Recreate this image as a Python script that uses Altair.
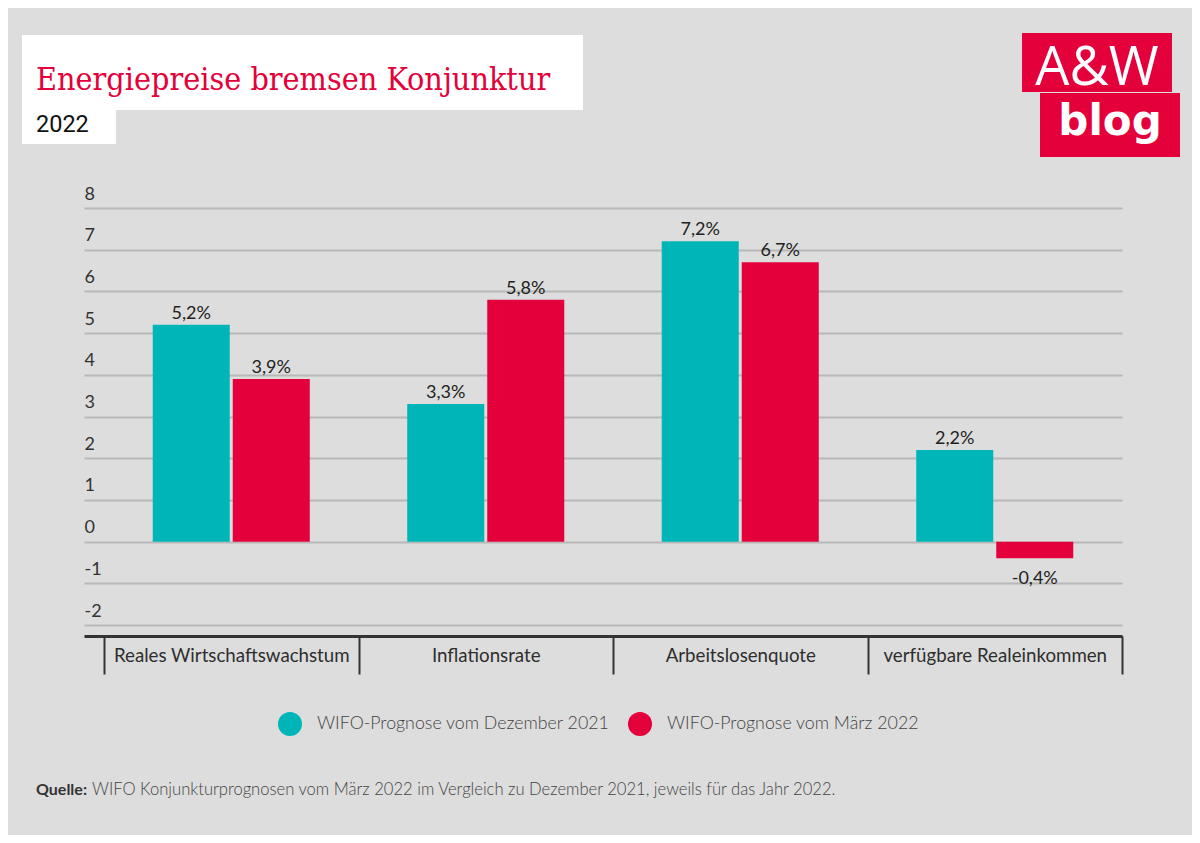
import altair as alt
import pandas as pd

# ---------------- data ----------------
categories = ["Reales Wirtschaftswachstum", "Inflationsrate", "Arbeitslosenquote", "verfügbare Realeinkommen"]
series = ["WIFO-Prognose vom Dezember 2021", "WIFO-Prognose vom März 2022"]
dez_2021 = [5.2, 3.3, 7.2, 2.2]
maerz_2022 = [3.9, 5.8, 6.7, -0.4]
y_ticks = [-2, -1, 0, 1, 2, 3, 4, 5, 6, 7, 8]
colors = ["#00b5b8", "#e4003a"]

title_text = "Energiepreise bremsen Konjunktur"
subtitle_text = "2022"
source_bold = "Quelle:"
source_text = "WIFO Konjunkturprognosen vom März 2022 im Vergleich zu Dezember 2021, jeweils für das Jahr 2022."

rows = []
for c, a, b in zip(categories, dez_2021, maerz_2022):
    for s, v in ((series[0], a), (series[1], b)):
        rows.append({"Kategorie": c, "Prognose": s, "Wert": v,
                     "Label": f"{v:.1f}".replace(".", ",") + "%"})
df = pd.DataFrame(rows)
dummy = pd.DataFrame({"d": [0]})

# ---------------- layout ----------------
W, H = 1038, 428
OX, OY = 84, 208  # page position of plot origin
FONT = "Lato"
BG = "#dddddd"


def px(x):
    return x - OX


def py(y):
    return y - OY


x_enc = alt.X(
    "Kategorie:N", sort=categories,
    scale=alt.Scale(paddingInner=0, paddingOuter=0.0393, align=1),
    axis=alt.Axis(title=None, orient="bottom", domainColor="#333333", domainWidth=3,
                  tickBand="extent", tickSize=38, tickWidth=2, tickColor="#333333",
                  labelPadding=-28, labelFont=FONT, labelFontSize=18.7, labelColor="#2e2e2e",
                  labelAngle=0, grid=False, labelBaseline="top", labelLimit=0),
)
xo_enc = alt.XOffset("Prognose:N", sort=series,
                     scale=alt.Scale(paddingInner=0.0375, paddingOuter=0.609))
y_enc = alt.Y(
    "Wert:Q",
    scale=alt.Scale(domain=[-2.263, 8], nice=False, zero=False),
    axis=alt.Axis(title=None, values=y_ticks, domain=False, ticks=False, grid=True,
                  gridColor="#b8b8b8", gridWidth=2, labelAlign="left", labelBaseline="middle",
                  labelPadding=0, labelOffset=-14, labelFont=FONT, labelFontSize=18,
                  labelColor="#333333", labelOverlap=False, labelExpr="'' + datum.value"),
)
color_enc = alt.Color(
    "Prognose:N", sort=series,
    scale=alt.Scale(domain=series, range=colors),
    legend=alt.Legend(title=None, orient="none", legendX=194, legendY=504,
                      direction="horizontal", columns=2, symbolType="circle",
                      symbolSize=576, symbolStrokeWidth=0, symbolOpacity=1,
                      labelFont=FONT, labelFontSize=17.8, labelFontWeight=300, labelLimit=0,
                      labelColor="#444444", labelOffset=15, columnPadding=18, padding=0),
)

base = alt.Chart(df)
bars = base.mark_bar(stroke=None).encode(x=x_enc, xOffset=xo_enc, y=y_enc, color=color_enc)
lab_pos = base.mark_text(baseline="alphabetic", dy=-6, font=FONT, fontSize=18, color="#222222").encode(
    x=alt.X("Kategorie:N", sort=categories), xOffset=alt.XOffset("Prognose:N", sort=series),
    y="Wert:Q", text="Label:N").transform_filter("datum.Wert >= 0")
lab_neg = base.mark_text(baseline="alphabetic", dy=26, font=FONT, fontSize=18, color="#222222").encode(
    x=alt.X("Kategorie:N", sort=categories), xOffset=alt.XOffset("Prognose:N", sort=series),
    y="Wert:Q", text="Label:N").transform_filter("datum.Wert < 0")


def rect(x1, y1, x2, y2, color):
    return alt.Chart(dummy).mark_rect(color=color).encode(
        x=alt.value(px(x1)), x2=alt.value(px(x2)), y=alt.value(py(y1)), y2=alt.value(py(y2)))


def text(s, x, y, size, color, font=FONT, weight="normal", align="left"):
    return alt.Chart(dummy).mark_text(align=align, baseline="alphabetic", font=font, fontSize=size,
                                      fontWeight=weight, color=color).encode(
        x=alt.value(px(x)), y=alt.value(py(y)), text=alt.value(s))


deco = [
    rect(22, 35, 583, 110, "white"),
    rect(22, 110, 116, 144, "white"),
    rect(1022, 33, 1172, 92, "#e4003a"),
    rect(1040, 93, 1180, 157, "#e4003a"),
    text(title_text, 36, 90, 32, "#e4003a", font="DejaVu Serif Condensed"),
    text(subtitle_text, 36, 132, 23.5, "#111111", font="Roboto"),
    text("A&W", 1097, 85, 54, "white", font="Open Sans", align="center"),
    text("blog", 1110, 135, 42, "white", font="DejaVu Sans", weight="bold", align="center"),
    text(source_bold, 36, 795, 16, "#333333", weight="bold"),
    text(source_text, 92, 795, 16.6, "#444444", weight=300),
]

chart = alt.layer(*deco, bars, lab_pos, lab_neg).properties(
    width=W, height=H,
    autosize=alt.AutoSizeParams(type="none"),
    padding={"left": 76, "top": 200, "right": 70, "bottom": 199},
).configure(background=BG).configure_view(stroke=None)

chart.save("out.html", embed_options={"renderer": "svg", "actions": False})
